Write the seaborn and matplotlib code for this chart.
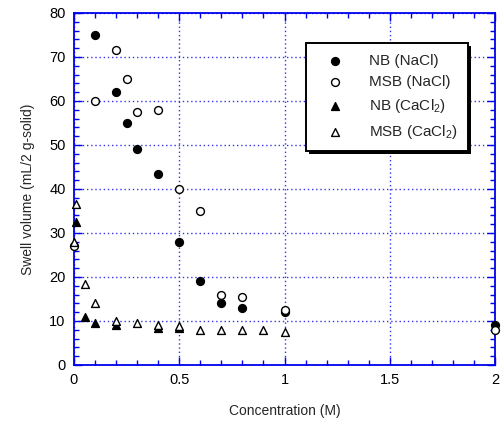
import matplotlib
matplotlib.use("Agg")
import matplotlib.pyplot as plt
import seaborn as sns
import pandas as pd
from matplotlib.ticker import MultipleLocator
from matplotlib.patches import Rectangle

# Data
nb_nacl_x = [0.1, 0.2, 0.25, 0.3, 0.4, 0.5, 0.6, 0.7, 0.8, 1.0, 2.0]
nb_nacl_y = [75, 62, 55, 49, 43.5, 28, 19, 14, 13, 12, 9]
msb_nacl_x = [0.0, 0.1, 0.2, 0.25, 0.3, 0.4, 0.5, 0.6, 0.7, 0.8, 1.0, 2.0]
msb_nacl_y = [27, 60, 71.5, 65, 57.5, 58, 40, 35, 16, 15.5, 12.5, 8]
nb_cacl_x = [0.01, 0.05, 0.1, 0.2, 0.4, 0.5]
nb_cacl_y = [32.5, 11, 9.5, 9.2, 8.3, 8.3]
msb_cacl_x = [0.0, 0.01, 0.05, 0.1, 0.2, 0.3, 0.4, 0.5, 0.6, 0.7, 0.8, 0.9, 1.0]
msb_cacl_y = [28, 36.5, 18.5, 14, 10, 9.5, 9, 8.8, 8, 8, 8, 8, 7.5]
labels = ["NB (NaCl)", "MSB (NaCl)", "NB (CaCl$_2$)", "MSB (CaCl$_2$)"]

sns.set_style("white")
plt.rcParams['font.family'] = ['Liberation Sans', 'DejaVu Sans']
plt.rcParams['mathtext.fontset'] = 'custom'
plt.rcParams['mathtext.rm'] = 'Liberation Sans'
plt.rcParams['mathtext.it'] = 'Liberation Sans'
plt.rcParams['mathtext.default'] = 'regular'

fig = plt.figure(figsize=(5.01, 4.21), dpi=100)
ax = fig.add_axes([74/501, 1 - 365/421, (495-74)/501, (365-13)/421])

series = [
    (nb_nacl_x, nb_nacl_y, 'o', 'black', labels[0]),
    (msb_nacl_x, msb_nacl_y, 'o', 'white', labels[1]),
    (nb_cacl_x, nb_cacl_y, '^', 'black', labels[2]),
    (msb_cacl_x, msb_cacl_y, '^', 'white', labels[3]),
]
for xs, ys, m, fc, lab in series:
    df = pd.DataFrame({'x': xs, 'y': ys})
    sns.scatterplot(data=df, x='x', y='y', ax=ax, marker=m, s=32,
                    color=fc, edgecolor='black', linewidth=1.0,
                    label=lab, clip_on=False, zorder=5)

ax.set_xlim(0, 2)
ax.set_ylim(0, 80)
ax.set_xticks([0, 0.5, 1, 1.5, 2])
ax.set_xticklabels(['0', '0.5', '1', '1.5', '2'])
ax.xaxis.set_minor_locator(MultipleLocator(0.1))
ax.yaxis.set_major_locator(MultipleLocator(10))
ax.yaxis.set_minor_locator(MultipleLocator(2))

blue = '#0000ee'
for sp in ax.spines.values():
    sp.set_color(blue)
    sp.set_linewidth(1.3)
ax.tick_params(which='both', direction='in', bottom=True, left=True, top=True,
               right=True, color=blue, labelsize=10.5, labelcolor='black', pad=6)
ax.tick_params(which='major', length=6, width=1.0)
ax.tick_params(which='minor', length=3.5, width=1.0)
ax.grid(True, which='major', color='#3333ee', linestyle=(0, (1, 2)), linewidth=1.0)
ax.set_axisbelow(True)

ax.set_xlabel('Concentration (M)', fontsize=10, labelpad=12)
ax.set_ylabel('Swell volume (mL/2 g-solid)', fontsize=10, labelpad=10)

leg = ax.legend(loc='upper left', bbox_to_anchor=((306-74)/421, (365-43)/352),
                frameon=True, fancybox=False, fontsize=11, handletextpad=1.0,
                borderpad=0.7, labelspacing=0.5, handlelength=2.4,
                borderaxespad=0, framealpha=1, facecolor='white')
leg.get_frame().set_edgecolor('black')
leg.get_frame().set_linewidth(1.4)
leg.set_zorder(10)

fig.canvas.draw()
bb = leg.get_window_extent().transformed(fig.transFigure.inverted())
shadow = Rectangle((bb.x0 + 3/501, bb.y0 - 3/421), bb.width, bb.height,
                   transform=fig.transFigure, facecolor='black', edgecolor='none',
                   zorder=9)
fig.add_artist(shadow)
leg.remove()
fig.add_artist(leg)

fig.savefig('out.png', dpi=100)
